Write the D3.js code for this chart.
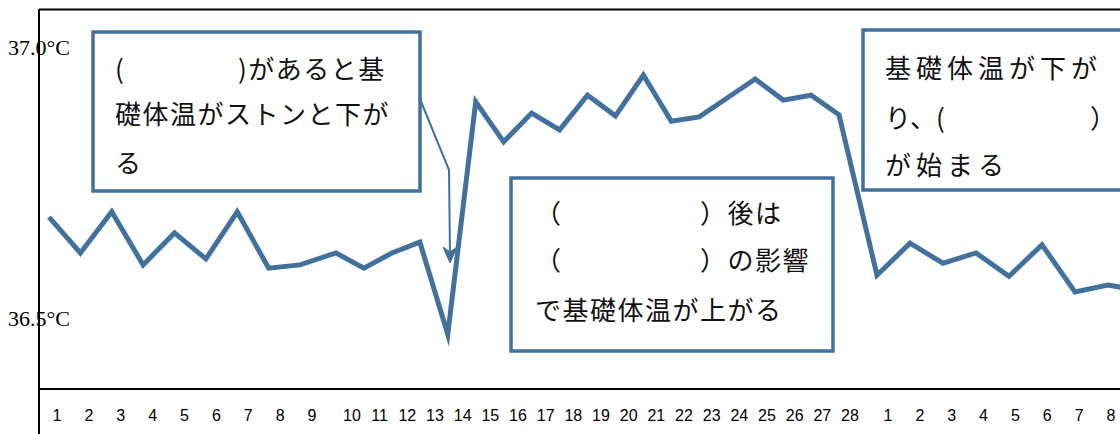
<!DOCTYPE html>
<html>
<head>
<meta charset="utf-8">
<script src="https://cdn.jsdelivr.net/npm/d3@7"></script>
<style>
  body { margin: 0; background: #fff; }
  svg { display: block; }
  .note { font-family: "Noto Sans CJK JP", sans-serif; font-size: 26px; fill: #111; white-space: pre; }
</style>
</head>
<body>
<div id="chart"></div>
<script>
// basal body temperature, one value per day (28-day cycle + start of the next)
var temps = [36.686, 36.620, 36.696, 36.598, 36.657, 36.609, 36.696, 36.592, 36.598, 36.620,
             36.592, 36.620, 36.640, 36.470, 36.899, 36.825, 36.878, 36.847, 36.911, 36.873,
             36.948, 36.863, 36.871, 36.906, 36.941, 36.902, 36.911, 36.875,
             36.579, 36.638, 36.601, 36.620, 36.577, 36.635, 36.548, 36.561, 36.550];
var dayLabels = [1,2,3,4,5,6,7,8,9,10,11,12,13,14,15,16,17,18,19,20,21,22,23,24,25,26,27,28,
                 1,2,3,4,5,6,7,8];
var tempTicks = [36.5, 37.0];

var W = 1120, H = 434;
var blue = '#41719c';

var svg = d3.select('#chart').append('svg')
    .attr('width', W)
    .attr('height', H);

// columns are not evenly wide (single digit days wider), so piecewise scales
var colDomain = [0, 8, 9, 27, 28, 35];
var x = d3.scaleLinear().domain(colDomain).range([49, 300, 336, 839, 877, 1108]);
var xLabel = d3.scaleLinear().domain(colDomain).range([57, 312, 352, 850, 888, 1111]);
var y = d3.scaleLinear().domain([36.5, 37.0]).range([318, 47]);

// frame
var frame = svg.append('g').attr('stroke', '#000').attr('stroke-width', 2);
frame.append('line').attr('x1', 39).attr('x2', W).attr('y1', 9.5).attr('y2', 9.5);
frame.append('line').attr('x1', 39).attr('x2', 39).attr('y1', 9).attr('y2', H);
frame.append('line').attr('x1', 39).attr('x2', W).attr('y1', 389).attr('y2', 389);

// day labels
svg.append('g').selectAll('text')
    .data(dayLabels)
    .enter()
    .append('text')
    .attr('x', function(d, i){ return xLabel(i); })
    .attr('y', 421)
    .attr('text-anchor', 'middle')
    .attr('font-family', 'Liberation Sans, Arial, sans-serif')
    .attr('font-size', 16)
    .attr('fill', '#000')
    .text(function(d){ return d; });

// temperature labels
svg.append('g').selectAll('text')
    .data(tempTicks)
    .enter()
    .append('text')
    .attr('x', 8)
    .attr('y', function(d){ return y(d); })
    .attr('dy', '0.35em')
    .attr('font-family', 'Liberation Serif, Times New Roman, serif')
    .attr('font-size', 22)
    .attr('fill', '#000')
    .text(function(d){ return d.toFixed(1) + '\u00b0C'; });

// temperature line
var line = d3.line()
    .x(function(d, i){ return x(i); })
    .y(function(d){ return y(d); });

svg.append('path')
    .datum(temps)
    .attr('d', line)
    .attr('fill', 'none')
    .attr('stroke', blue)
    .attr('stroke-width', 5)
    .attr('stroke-linejoin', 'miter')
    .attr('stroke-miterlimit', 10);

// callout boxes
var boxes = [
  {x: 93, y: 32, w: 327, h: 159, lines: [
      {t: '(', x: 115, y: 79},
      {t: ')があると基', x: 238, y: 79},
      {t: '礎体温がストンと下が', x: 115, y: 124},
      {t: 'る', x: 115, y: 173}]},
  {x: 511, y: 178, w: 322, h: 173, lines: [
      {t: '（', x: 535, y: 223},
      {t: '）後は', x: 700, y: 223},
      {t: '（', x: 535, y: 270},
      {t: '）の影響', x: 700, y: 270},
      {t: 'で基礎体温が上がる', x: 535, y: 320}]},
  {x: 863, y: 30, w: 270, h: 160, sp: 5, lines: [
      {t: '基礎体温が下が', x: 885, y: 78},
      {t: 'り、(', x: 885, y: 128, sp: 0},
      {t: '）', x: 1090, y: 128},
      {t: 'が始まる', x: 885, y: 175}]}
];

boxes.forEach(function(b){
  var g = svg.append('g');
  g.append('rect')
    .attr('x', b.x).attr('y', b.y)
    .attr('width', b.w).attr('height', b.h)
    .attr('fill', '#fff')
    .attr('stroke', blue)
    .attr('stroke-width', 3.5);
  g.selectAll('text')
    .data(b.lines)
    .enter()
    .append('text')
    .attr('class', 'note')
    .attr('x', function(d){ return d.x; })
    .attr('y', function(d){ return d.y; })
    .attr('letter-spacing', function(d){ return d.sp != null ? d.sp : (b.sp || 1.5); })
    .text(function(d){ return d.t; });
});

// arrow from the first box down to the dip
svg.append('path')
    .attr('d', 'M420,99 L449,170 L450,255')
    .attr('fill', 'none')
    .attr('stroke', blue)
    .attr('stroke-width', 2);
svg.append('path')
    .attr('d', 'M443,247 L450,263 L457,247 L450,252 Z')
    .attr('fill', blue)
    .attr('stroke', blue)
    .attr('stroke-width', 1);
</script>
</body>
</html>
